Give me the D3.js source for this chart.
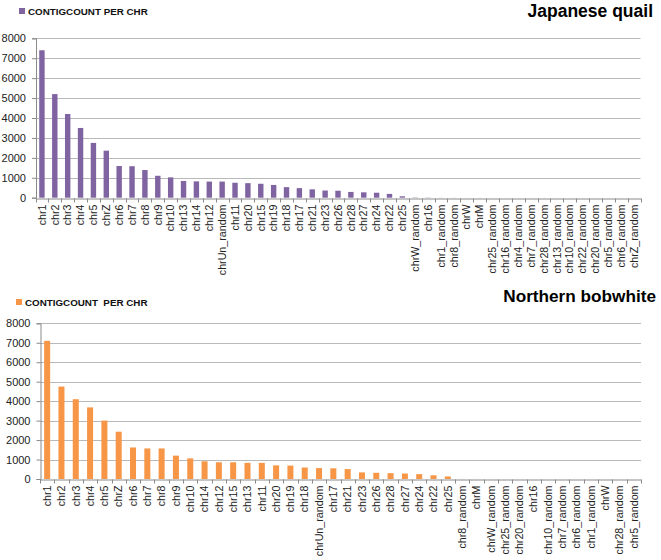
<!DOCTYPE html>
<html>
<head>
<meta charset="utf-8">
<script src="https://cdn.jsdelivr.net/npm/d3@7"></script>
<style>
  html, body { margin: 0; padding: 0; background: #fff; }
  svg { display: block; }
  text { font-family: "Liberation Sans", Arial, sans-serif; }
</style>
</head>
<body>
<svg id="chart" width="661" height="560"></svg>
<script>
// ---- Data ----
const quailCategories = ["chr1","chr2","chr3","chr4","chr5","chrZ","chr6","chr7","chr8","chr9","chr10","chr13","chr14","chr12","chrUn_random","chr11","chr20","chr15","chr19","chr18","chr17","chr21","chr23","chr26","chr28","chr27","chr24","chr22","chr25","chrW_random","chr16","chr1_random","chr8_random","chrW","chrM","chr25_random","chr16_random","chr4_random","chr7_random","chr28_random","chr13_random","chr10_random","chr22_random","chr20_random","chr5_random","chr6_random","chrZ_random"];
const quailValues = [7400,5200,4200,3500,2750,2360,1590,1580,1390,1100,1020,840,820,810,810,750,730,700,640,530,480,420,360,350,290,270,250,190,70,15,10,4,3,2,2,1,1,1,1,1,1,1,1,1,1,1,1];

const bobwhiteCategories = ["chr1","chr2","chr3","chr4","chr5","chrZ","chr6","chr7","chr8","chr9","chr10","chr14","chr12","chr15","chr13","chr11","chr20","chr19","chr18","chrUn_random","chr17","chr21","chr23","chr26","chr28","chr27","chr24","chr22","chr25","chr8_random","chrM","chrW_random","chr25_random","chr20_random","chr16","chr10_random","chr7_random","chr6_random","chr1_random","chrW","chr28_random","chr5_random"];
const bobwhiteValues = [7100,4750,4100,3680,3000,2430,1620,1570,1570,1200,1060,910,860,860,830,830,700,690,590,560,550,510,340,320,300,280,250,190,130,4,3,2,2,2,1,1,1,1,1,1,1,1];

const yTicks = [0,1000,2000,3000,4000,5000,6000,7000,8000];
const legendLabels = ["CONTIGCOUNT PER CHR", "CONTIGCOUNT  PER CHR"];
const titles = ["Japanese quail", "Northern bobwhite"];

const svg = d3.select("#chart");

function panel(cfg) {
  const g = svg.append("g");
  const x = d3.scaleBand().domain(cfg.categories).range([cfg.left, cfg.right]).paddingInner(0).paddingOuter(0);
  const y = d3.scaleLinear().domain([0, 8000]).range([cfg.bottom, cfg.top]);

  // gridlines
  g.append("g").selectAll("line").data(yTicks.filter(d => d > 0)).join("line")
    .attr("x1", cfg.left).attr("x2", cfg.right)
    .attr("y1", d => Math.round(y(d)) + 0.5).attr("y2", d => Math.round(y(d)) + 0.5)
    .attr("stroke", "#b9b9b9").attr("stroke-width", 1);

  // bars
  const bw = x.bandwidth() * 0.42;
  g.append("g").selectAll("rect").data(cfg.values).join("rect")
    .attr("x", (d, i) => x(cfg.categories[i]) + (x.bandwidth() - bw) / 2)
    .attr("width", bw)
    .attr("y", d => y(d))
    .attr("height", d => cfg.bottom - y(d))
    .attr("fill", cfg.color);

  // y axis
  const ya = g.append("g").attr("transform", `translate(${cfg.left + 0.5},0)`)
    .call(d3.axisLeft(y).tickValues(yTicks).tickSize(4).tickPadding(cfg.tickPad).tickFormat(d3.format("d")));
  ya.select(".domain").attr("stroke", "#8a8a8a");
  ya.selectAll(".tick line").attr("stroke", "#8a8a8a");
  ya.selectAll("text").attr("font-size", 11).attr("fill", "#222")
    .attr("font-family", "Liberation Sans, Arial, sans-serif");

  // x axis
  const xa = g.append("g").attr("transform", `translate(0,${Math.round(cfg.bottom) + 0.5})`)
    .call(d3.axisBottom(x).tickSize(0).tickSizeOuter(0));
  xa.select(".domain").attr("stroke", "#8a8a8a");
  const edges = cfg.categories.map(c => x(c)).concat([cfg.right]);
  xa.append("g").selectAll("line").data(edges).join("line")
    .attr("x1", d => Math.round(d) + 0.5).attr("x2", d => Math.round(d) + 0.5)
    .attr("y1", 0).attr("y2", 4).attr("stroke", "#8a8a8a");
  xa.selectAll(".tick text")
    .attr("transform", "rotate(-90)")
    .attr("text-anchor", "end")
    .attr("x", -6).attr("y", 0).attr("dy", "0.35em")
    .attr("font-size", 10.7).attr("fill", "#222")
    .attr("font-family", "Liberation Sans, Arial, sans-serif");

  // legend
  g.append("rect").attr("x", cfg.legX).attr("y", cfg.legY).attr("width", 6).attr("height", 6).attr("fill", cfg.color);
  g.append("text").attr("x", cfg.legX + 9).attr("y", cfg.legY + 6.5)
    .attr("font-size", 9.8).attr("font-weight", "bold").attr("fill", "#111")
    .style("white-space", "pre")
    .text(cfg.legend);

  // title
  g.append("text").attr("x", cfg.titleX).attr("y", cfg.titleY)
    .attr("text-anchor", "end")
    .attr("font-size", cfg.titleSize).attr("font-weight", "bold").attr("fill", "#000")
    .text(cfg.title);
}

panel({
  categories: quailCategories, values: quailValues, color: "#8064a2",
  left: 35.5, right: 640.5, top: 38.3, bottom: 197.7, tickPad: 6,
  legX: 19, legY: 8, legend: legendLabels[0],
  title: titles[0], titleX: 653, titleY: 17, titleSize: 17.5
});

panel({
  categories: bobwhiteCategories, values: bobwhiteValues, color: "#f79646",
  left: 40, right: 641, top: 323.3, bottom: 479, tickPad: 6,
  legX: 16, legY: 299, legend: legendLabels[1],
  title: titles[1], titleX: 656, titleY: 302, titleSize: 17.2
});
</script>
</body>
</html>
